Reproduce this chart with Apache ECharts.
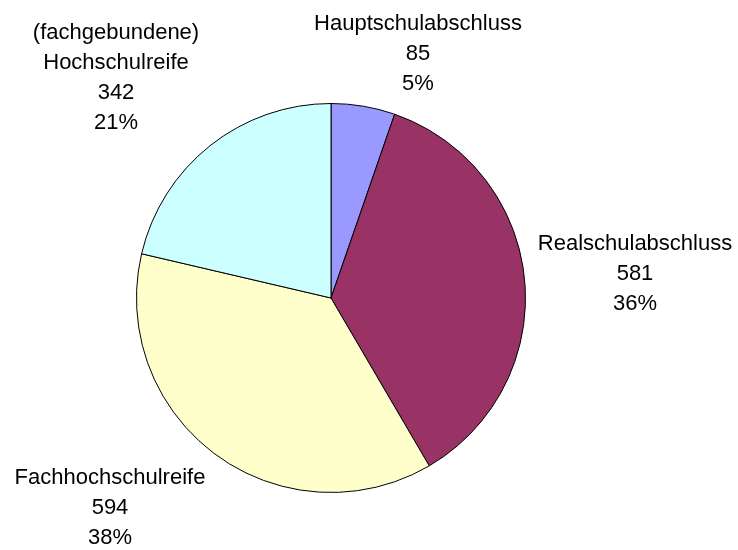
<!DOCTYPE html>
<html>
<head>
<meta charset="utf-8">
<script src="https://cdn.jsdelivr.net/npm/echarts@6/dist/echarts.min.js"></script>
<style>
  html, body { margin: 0; padding: 0; background: #ffffff; }
  #chart { width: 738px; height: 550px; }
</style>
</head>
<body>
<div id="chart"></div>
<script>
// Data
var categories = ['Hauptschulabschluss', 'Realschulabschluss', 'Fachhochschulreife', '(fachgebundene) Hochschulreife'];
var values = [85, 581, 594, 342];
var percentLabels = ['5%', '36%', '38%', '21%'];

// Styling / layout (not data)
var sliceColors = ['#9999FF', '#993366', '#FFFFCC', '#CCFFFF'];
var labelAnchors = [[418, 54], [635, 274], [110, 508], [116, 78]];

var chart = echarts.init(document.getElementById('chart'), null, { renderer: 'canvas' });

var seriesData = categories.map(function (name, i) {
  return { name: name, value: values[i], itemStyle: { color: sliceColors[i] } };
});

chart.setOption({
  backgroundColor: '#ffffff',
  animation: false,
  series: [{
    type: 'pie',
    center: [331, 298],
    radius: 194.5,
    startAngle: 90,
    clockwise: true,
    avoidLabelOverlap: false,
    data: seriesData,
    itemStyle: { borderColor: '#000000', borderWidth: 1 },
    emphasis: { disabled: true },
    label: {
      show: true,
      position: 'outside',
      fontFamily: '"Liberation Sans", Arial, Helvetica, sans-serif',
      fontSize: 22,
      lineHeight: 30,
      color: '#000000',
      formatter: function (p) {
        var name = p.name.replace('(fachgebundene) ', '(fachgebundene)\n');
        return name + '\n' + p.value + '\n' + percentLabels[p.dataIndex];
      }
    },
    labelLine: { show: false },
    labelLayout: function (params) {
      var a = labelAnchors[params.dataIndex];
      return { x: a[0], y: a[1], align: 'center', verticalAlign: 'middle' };
    }
  }]
});
</script>
</body>
</html>
